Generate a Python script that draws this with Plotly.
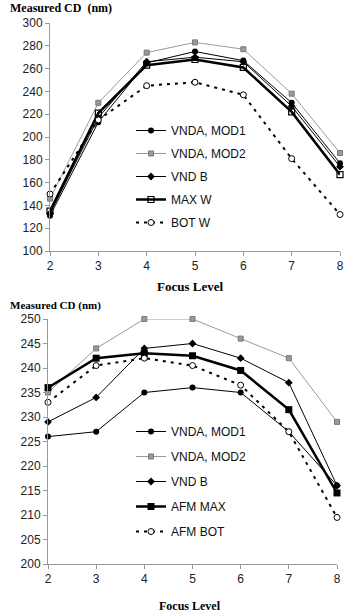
import plotly.graph_objects as go

focus = [2, 3, 4, 5, 6, 7, 8]

# Top chart
top_names = ["VNDA, MOD1", "VNDA, MOD2", "VND B", "MAX W", "BOT W"]
top_mod1 = [131, 213, 265, 275, 267, 230, 177]
top_mod2 = [146, 230, 274, 283, 277, 238, 186]
top_vndb = [133, 217, 266, 270, 266, 227, 174]
top_maxw = [135, 221, 263, 268, 261, 222, 167]
top_botw = [150, 215, 245, 248, 237, 181, 132]
top_yticks = [100, 120, 140, 160, 180, 200, 220, 240, 260, 280, 300]

# Bottom chart
bot_names = ["VNDA, MOD1", "VNDA, MOD2", "VND B", "AFM MAX", "AFM BOT"]
bot_mod1 = [226, 227, 235, 236, 235, 227, 216]
bot_mod2 = [235, 244, 250, 250, 246, 242, 229]
bot_vndb = [229, 234, 244, 245, 242, 237, 216]
bot_afmmax = [236, 242, 243, 242.5, 239.5, 231.5, 214.5]
bot_afmbot = [233, 240.5, 242, 240.5, 236.5, 227, 209.5]
bot_yticks = [200, 205, 210, 215, 220, 225, 230, 235, 240, 245, 250]

W, H = 344, 616
fig = go.Figure()

def styles(open_max):
    return [
        dict(line=dict(color="black", width=1), marker=dict(symbol="circle", size=6, color="black")),
        dict(line=dict(color="#9a9a9a", width=1), marker=dict(symbol="square", size=5, color="#9a9a9a", line=dict(color="#777", width=1))),
        dict(line=dict(color="black", width=1), marker=dict(symbol="diamond", size=6, color="black")),
        dict(line=dict(color="black", width=2.5),
             marker=(dict(symbol="square-open", size=6, color="black", line=dict(width=1.2)) if open_max
                     else dict(symbol="square", size=7, color="black"))),
        dict(line=dict(color="black", width=2, dash="3px,5px"), marker=dict(symbol="circle", size=6, color="white", line=dict(color="black", width=1))),
    ]

for i, (name, ys) in enumerate(zip(top_names, [top_mod1, top_mod2, top_vndb, top_maxw, top_botw])):
    s = styles(True)[i]
    fig.add_trace(go.Scatter(x=focus, y=ys, name=name, mode="lines+markers", xaxis="x", yaxis="y",
                             legend="legend", legendgroup="t%d" % i, cliponaxis=False, **s))

for i, (name, ys) in enumerate(zip(bot_names, [bot_mod1, bot_mod2, bot_vndb, bot_afmmax, bot_afmbot])):
    s = styles(False)[i]
    fig.add_trace(go.Scatter(x=focus, y=ys, name=name, mode="lines+markers", xaxis="x2", yaxis="y2",
                             legend="legend2", legendgroup="b%d" % i, cliponaxis=False, **s))

tickfont = dict(family="Liberation Sans, Arial", size=12, color="#222")
axcommon = dict(showgrid=False, zeroline=False, showline=True, linecolor="#999", linewidth=1,
                ticks="outside", tickcolor="#999", ticklen=4, tickfont=tickfont, automargin=False)

fig.update_layout(
    width=W, height=H, margin=dict(l=0, r=0, t=0, b=0, autoexpand=False),
    paper_bgcolor="white", plot_bgcolor="white",
    xaxis=dict(domain=[50/W, 340/W], range=[2, 8], tickvals=focus, anchor="y", **axcommon),
    yaxis=dict(domain=[1-251/H, 1-23/H], range=[100, 300], tickvals=top_yticks, anchor="x", **axcommon),
    xaxis2=dict(domain=[48/W, 337/W], range=[2, 8], tickvals=focus, anchor="y2", **axcommon),
    yaxis2=dict(domain=[1-564/H, 1-319/H], range=[200, 250], tickvals=bot_yticks, anchor="x2", **axcommon),
    legend=dict(x=131/W, y=1-116/H, xanchor="left", yanchor="top", bgcolor="rgba(0,0,0,0)",
                font=dict(family="Liberation Sans, Arial", size=12, color="#111"), tracegroupgap=4),
    legend2=dict(x=131/W, y=1-417/H, xanchor="left", yanchor="top", bgcolor="rgba(0,0,0,0)",
                 font=dict(family="Liberation Sans, Arial", size=12, color="#111"), tracegroupgap=6),
    showlegend=True,
)

titlefont = dict(family="Liberation Serif, Times New Roman", size=12, color="black")
fig.add_annotation(text="<b>Measured CD  (nm)</b>", x=8/W, y=1-8/H, xref="paper", yref="paper",
                   xanchor="left", yanchor="middle", showarrow=False, font=titlefont)
fig.add_annotation(text="<b>Focus Level</b>", x=190/W, y=1-286/H, xref="paper", yref="paper",
                   xanchor="center", yanchor="middle", showarrow=False, font=dict(family="Liberation Serif, Times New Roman", size=13, color="black"))
fig.add_annotation(text="<b>Measured CD (nm)</b>", x=8/W, y=1-305/H, xref="paper", yref="paper",
                   xanchor="left", yanchor="middle", showarrow=False, font=dict(family="Liberation Serif, Times New Roman", size=11, color="black"))
fig.add_annotation(text="<b>Focus Level</b>", x=190/W, y=1-606/H, xref="paper", yref="paper",
                   xanchor="center", yanchor="middle", showarrow=False, font=dict(family="Liberation Serif, Times New Roman", size=12, color="black"))

fig.write_html("out.html", config={"displayModeBar": False},
               post_script="document.body.style.margin='0';document.body.style.overflow='hidden';")
